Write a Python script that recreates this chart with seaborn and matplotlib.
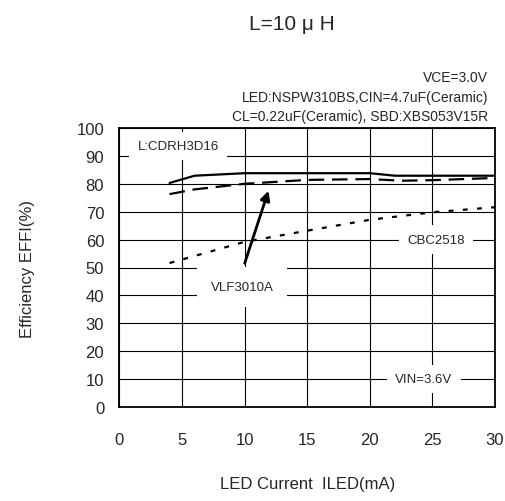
import pandas as pd
import seaborn as sns
import matplotlib.pyplot as plt

# efficiency curves, L = 10uH
cdrh_current = [4, 6, 10, 15, 20, 22, 25, 30]
cdrh_eff = [80.3, 82.9, 83.8, 83.8, 83.8, 82.9, 82.9, 82.9]

vlf_current = [4, 6, 10, 15, 20, 22.5, 25, 30]
vlf_eff = [76.3, 78.0, 80.0, 81.4, 81.7, 81.1, 81.3, 82.1]

cbc_current = [4, 10, 15, 20, 25, 30]
cbc_eff = [51.6, 59.2, 63.2, 67.1, 69.8, 71.6]

x_ticks = [0, 5, 10, 15, 20, 25, 30]
y_ticks = [0, 10, 20, 30, 40, 50, 60, 70, 80, 90, 100]

sns.set_style("white")
plt.rcParams["font.family"] = ["Liberation Sans", "DejaVu Sans"]

fig = plt.figure(figsize=(5.06, 5.02), dpi=100)
ax = fig.add_axes([119.5 / 506, 1 - 408 / 502, 375.5 / 506, 279 / 502])

cdrh = pd.DataFrame({"current": cdrh_current, "eff": cdrh_eff})
vlf = pd.DataFrame({"current": vlf_current, "eff": vlf_eff})
cbc = pd.DataFrame({"current": cbc_current, "eff": cbc_eff})

sns.lineplot(data=cdrh, x="current", y="eff", ax=ax, color="black", linewidth=1.6)
sns.lineplot(data=vlf, x="current", y="eff", ax=ax, color="black", linewidth=1.6,
             dashes=False, linestyle=(0, (7, 3.5)))
sns.lineplot(data=cbc, x="current", y="eff", ax=ax, color="black", linewidth=1.6,
             linestyle=(0, (2.2, 4.2)))

ax.set_xlim(0, 30)
ax.set_ylim(0, 100)
ax.set_xticks(x_ticks)
ax.set_yticks(y_ticks)
ax.tick_params(axis="x", length=0, pad=18, labelsize=12)
ax.tick_params(axis="y", length=0, pad=11, labelsize=12)
ax.grid(True, color="black", linewidth=0.8)
for s in ax.spines.values():
    s.set_color("black")
    s.set_linewidth(1.3)

ax.set_xlabel("LED Current  ILED(mA)", fontsize=12, labelpad=21)
ax.set_ylabel("Efficiency EFFI(%)", fontsize=12, labelpad=30)

box = dict(facecolor="white", edgecolor="none", pad=6)
ax.text(4.7, 93.5, "L:CDRH3D16", fontsize=9.5, ha="center", va="center", bbox=box)
ax.text(25.3, 60, "CBC2518", fontsize=9.5, ha="center", va="center", bbox=box)
ax.text(9.8, 43, "VLF3010A", fontsize=9.5, ha="center", va="center",
        bbox=dict(facecolor="white", edgecolor="none", pad=10))
ax.text(24.3, 10, "VIN=3.6V", fontsize=9.5, ha="center", va="center", bbox=box)

ax.annotate("", xy=(11.9, 77.5), xytext=(10, 51.5),
            arrowprops=dict(arrowstyle="-|>", color="black", lw=2,
                            mutation_scale=14, shrinkA=0, shrinkB=0))

fig.text(292 / 506, 1 - 25 / 502, "L=10 \u03bc H", fontsize=15, ha="center", va="center")
fig.text(488 / 506, 1 - 78 / 502, "VCE=3.0V", fontsize=10, ha="right", va="center")
fig.text(488 / 506, 1 - 98 / 502, "LED:NSPW310BS,CIN=4.7uF(Ceramic)", fontsize=10,
         ha="right", va="center")
fig.text(488 / 506, 1 - 117 / 502, "CL=0.22uF(Ceramic), SBD:XBS053V15R", fontsize=10,
         ha="right", va="center")

fig.savefig("out.png", dpi=100)
